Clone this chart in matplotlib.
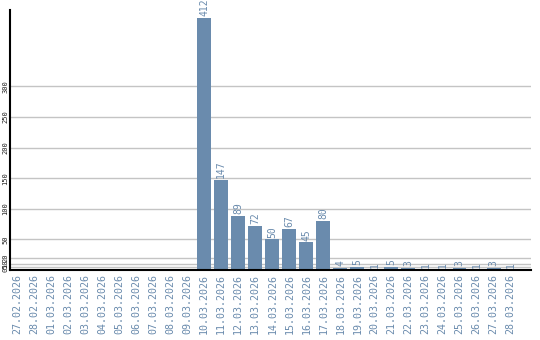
import matplotlib
matplotlib.use("Agg")
import matplotlib.pyplot as plt

# daily counts, 27.02.2026 - 28.03.2026
dates = ["27.02.2026", "28.02.2026"] + [f"{d:02d}.03.2026" for d in range(1, 29)]
counts = [0, 0, 0, 0, 0, 0, 0, 0, 0, 0, 0,
          412, 147, 89, 72, 50, 67, 45, 80, 4, 5, 1, 5, 3, 1, 1, 3, 1, 3, 1]
y_ticks = [0, 5, 10, 20, 50, 100, 150, 200, 250, 300]
y_labels = ["0", "5", "10", "20", "50", "100", "150", "200", "250", "300"]

bar_colour = "#6a8bad"
text_colour = "#6a8bad"

fig = plt.figure(figsize=(5.4, 3.4), dpi=100)
ax = fig.add_axes([10 / 540, 70 / 340, 521 / 540, 260 / 340])

x = list(range(len(dates)))
ax.bar(x, counts, width=0.82, color=bar_colour, zorder=2)

for xi, v in zip(x, counts):
    if v > 0:
        ax.text(xi, v + 3, str(v), rotation=90, ha="center", va="bottom",
                color=text_colour, fontsize=7, family="DejaVu Sans Mono")

ax.set_xlim(-0.41, 30.2)
ax.set_ylim(0, 425)

ax.set_yticks(y_ticks)
ax.set_yticklabels(y_labels, rotation=90, va="center", fontsize=5,
                   family="DejaVu Sans Mono", color="#222222")
ax.set_xticks(x)
ax.set_xticklabels(dates, rotation=90, fontsize=7.2, color=text_colour,
                   family="DejaVu Sans Mono")
ax.tick_params(axis="both", length=0, pad=3)
ax.tick_params(axis="y", pad=1)

ax.grid(axis="y", color="#c4c4c4", linewidth=1, zorder=0)
for side in ["top", "right"]:
    ax.spines[side].set_visible(False)
ax.spines["left"].set_linewidth(1.5)
ax.spines["bottom"].set_linewidth(1.5)

fig.savefig("out.png", dpi=100)
